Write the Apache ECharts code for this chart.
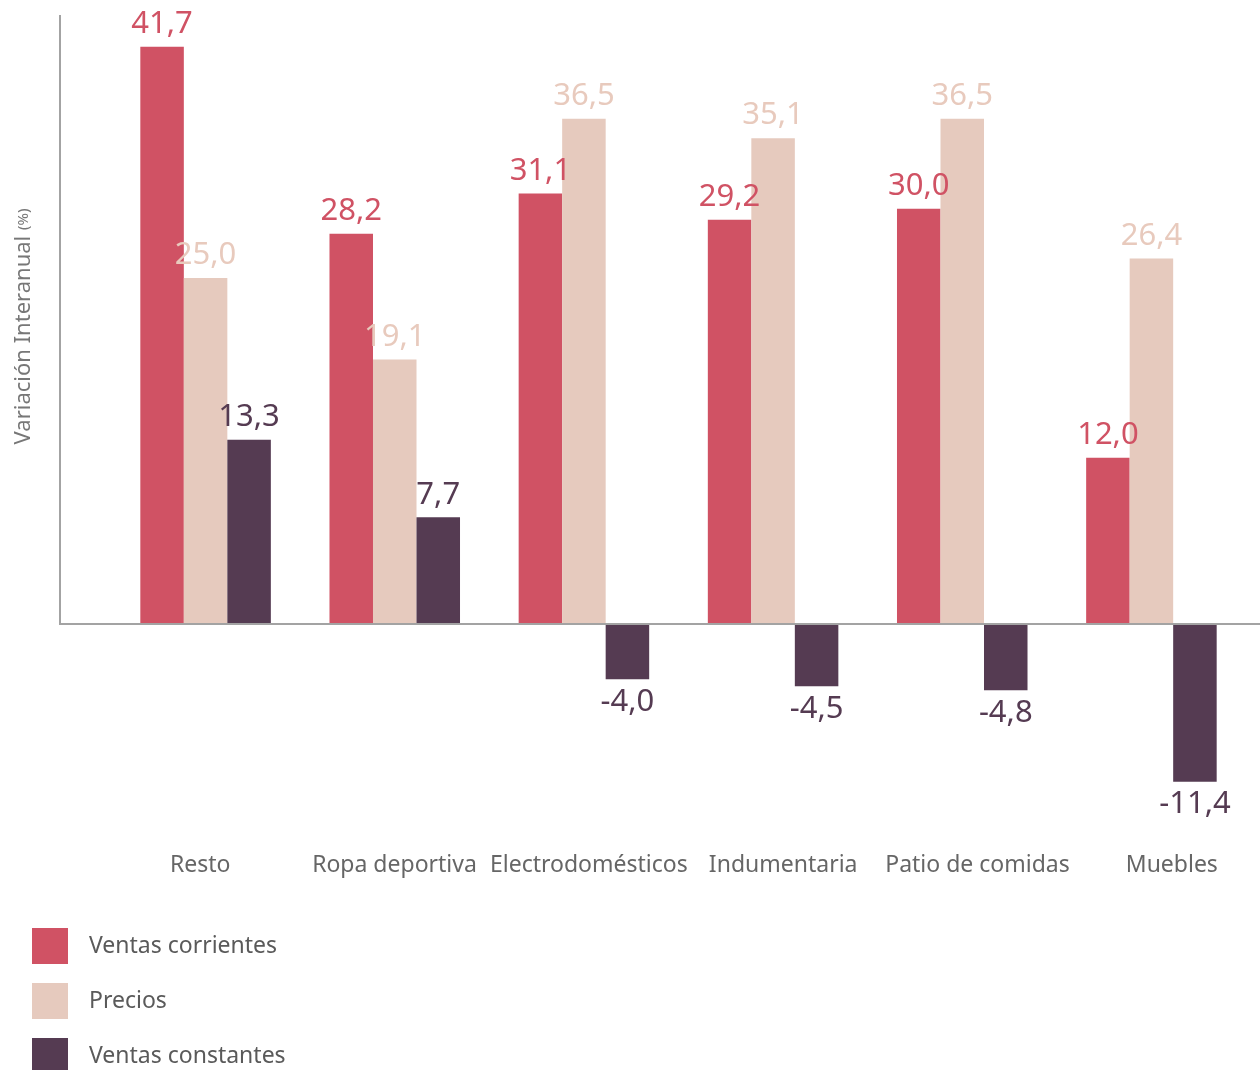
<!DOCTYPE html>
<html>
<head>
<meta charset="utf-8">
<script src="https://cdn.jsdelivr.net/npm/echarts@6/dist/echarts.min.js"></script>
<style>
  html, body { margin: 0; padding: 0; background: #fff; }
  #chart { width: 1260px; height: 1070px; }
</style>
</head>
<body>
<div id="chart"></div>
<script>
  // data
  let categories = ['Resto', 'Ropa deportiva', 'Electrodomésticos', 'Indumentaria', 'Patio de comidas', 'Muebles'];
  let ventasCorrientes = [41.7, 28.2, 31.1, 29.2, 30.0, 12.0];
  let precios = [25.0, 19.1, 36.5, 35.1, 36.5, 26.4];
  let ventasConstantes = [13.3, 7.7, -4.0, -4.5, -4.8, -11.4];

  let fontFamily = '"Noto Sans", "Open Sans", sans-serif';
  let axisGray = '#a3a3a3';

  function toItems(values) {
    return values.map(function (v) {
      return {
        value: v,
        label: { position: v < 0 ? 'bottom' : 'top' }
      };
    });
  }

  function barSeries(name, values, color, labelColor) {
    return {
      name: name,
      type: 'bar',
      barGap: 0,
      barCategoryGap: '31%',
      data: toItems(values),
      itemStyle: { color: color },
      label: {
        show: true,
        distance: 7,
        color: labelColor,
        fontSize: 31,
        fontFamily: fontFamily,
        formatter: function (p) {
          return p.value.toFixed(1).replace('.', ',');
        }
      }
    };
  }

  let chart = echarts.init(document.getElementById('chart'));

  chart.setOption({
    animation: false,
    grid: [{
      left: 111,
      right: 14,
      top: 15,
      bottom: 280,
      outerBoundsMode: 'none'
    }, {
      // the category labels sit on a slightly wider spacing than the bars
      left: 103,
      right: -9,
      top: 15,
      bottom: 280,
      outerBoundsMode: 'none'
    }],
    legend: {
      orient: 'vertical',
      left: 32,
      top: 928,
      height: 200,
      padding: 0,
      itemWidth: 36,
      itemHeight: 36,
      itemGap: 19,
      icon: 'rect',
      textStyle: {
        color: '#5a5a5a',
        fontSize: 23,
        fontFamily: fontFamily,
        padding: [14, 0, 0, 16]
      }
    },
    xAxis: [{
      type: 'category',
      gridIndex: 0,
      data: categories,
      axisLine: { show: false, onZero: false },
      axisTick: { show: false },
      axisLabel: { show: false }
    }, {
      type: 'category',
      gridIndex: 1,
      data: categories,
      position: 'bottom',
      axisLine: { show: false, onZero: false },
      axisTick: { show: false },
      axisLabel: {
        margin: 64,
        color: '#666',
        fontSize: 23,
        fontFamily: fontFamily,
        interval: 0
      }
    }],
    yAxis: [{
      type: 'value',
      gridIndex: 0,
      min: -12,
      max: 44,
      offset: 51,
      name: 'Variación Interanual {s|(%)}',
      nameLocation: 'middle',
      nameGap: 25,
      nameTextStyle: {
        color: '#777',
        fontSize: 22,
        fontFamily: fontFamily,
        padding: [0, 0, 0, 152],
        rich: {
          s: { fontSize: 15, color: '#777', fontFamily: fontFamily }
        }
      },
      axisLine: { show: false },
      axisTick: { show: false },
      axisLabel: { show: false },
      splitLine: { show: false }
    }, {
      type: 'value',
      gridIndex: 1,
      show: false
    }],
    series: [
      barSeries('Ventas corrientes', ventasCorrientes, '#d05264', '#d05264'),
      barSeries('Precios', precios, '#e6cabe', '#e8cabd'),
      barSeries('Ventas constantes', ventasConstantes, '#553b52', '#553b52')
    ]
  });

  // axis lines: vertical from max down to zero, horizontal zero line across the page
  let zeroY = chart.convertToPixel({ yAxisIndex: 0 }, 0);
  let topY = chart.convertToPixel({ yAxisIndex: 0 }, 44);
  chart.setOption({
    graphic: [
      {
        type: 'line',
        shape: { x1: 60, y1: topY, x2: 60, y2: zeroY },
        style: { stroke: axisGray, lineWidth: 2 },
        z: 10
      },
      {
        type: 'line',
        shape: { x1: 59, y1: zeroY, x2: 1260, y2: zeroY },
        style: { stroke: axisGray, lineWidth: 2 },
        z: 10
      }
    ]
  });

  window.addEventListener('resize', function () {
    chart.resize();
  });
</script>
</body>
</html>
